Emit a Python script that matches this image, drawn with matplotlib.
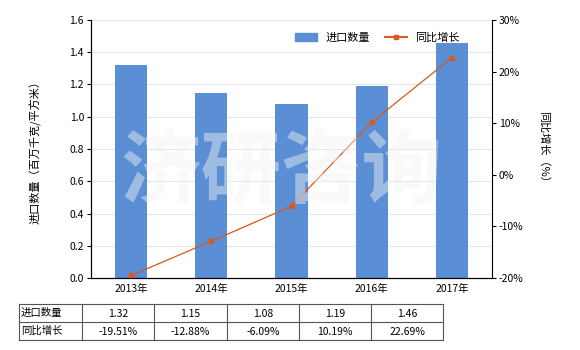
import matplotlib
matplotlib.use("Agg")
import matplotlib.pyplot as plt
from matplotlib.lines import Line2D

plt.rcParams["font.family"] = ["Noto Sans CJK SC", "DejaVu Sans"]
plt.rcParams["font.size"] = 7.5

years = ["2013年", "2014年", "2015年", "2016年", "2017年"]
volume = [1.32, 1.15, 1.08, 1.19, 1.46]
growth = [-19.51, -12.88, -6.09, 10.19, 22.69]
volume_labels = ["1.32", "1.15", "1.08", "1.19", "1.46"]
growth_labels = ["-19.51%", "-12.88%", "-6.09%", "10.19%", "22.69%"]

bar_color = "#5a8fd6"
line_color = "#d9581c"

fig = plt.figure(figsize=(5.8, 3.5), dpi=100)
ax = fig.add_axes([91 / 580, 1 - 278 / 350, (492 - 91) / 580, (278 - 20) / 350])
x = range(len(years))
ax.bar(x, volume, width=0.4, color=bar_color, label="进口数量", zorder=2)
ax.set_xlim(-0.5, len(years) - 0.5)
ax.set_ylim(0, 1.6)
ax.set_yticks([i * 0.2 for i in range(9)])
ax.set_yticklabels([f"{i * 0.2:.1f}" for i in range(9)])
ax.set_xticks(list(x))
ax.set_xticklabels(years)
ax.grid(axis="y", color="#e6e6e6", linewidth=0.8, zorder=0)
ax.spines["top"].set_visible(False)
ax.spines["right"].set_visible(False)
ax.tick_params(axis="x", length=0, pad=4)
ax.tick_params(axis="y", length=3, pad=2)
ax.set_ylabel("进口数量（百万千克/平方米）", fontsize=8, labelpad=20)

ax2 = ax.twinx()
ax2.plot(list(x), growth, color=line_color, linewidth=0.9, marker="s",
         markersize=3, label="同比增长", zorder=3)
ax2.set_ylim(-20, 30)
ax2.set_yticks(range(-20, 31, 10))
ax2.set_yticklabels([f"{v}%" for v in range(-20, 31, 10)])
ax2.spines["top"].set_visible(False)
ax2.tick_params(axis="y", length=3, pad=2)
ax2.set_ylabel("同比增长（%）", fontsize=8, rotation=-90, labelpad=18)

handles = [plt.Rectangle((0, 0), 1, 1, color=bar_color),
           Line2D([], [], color=line_color, marker="s", markersize=3, linewidth=1.5)]
ax.legend(handles, ["进口数量", "同比增长"], loc="upper right", ncol=2, frameon=False,
          bbox_to_anchor=(0.945, 0.99), fontsize=8, handlelength=1.9, columnspacing=1.4)

# watermark, drawn over the plot
fig.text(281 / 580, 1 - 174 / 350, "济研咨询", fontsize=58, color="#f2f2f2", alpha=0.45,
         ha="center", va="center", fontweight="bold", zorder=10)

# data table below the chart
tab = fig.add_axes([0, 0, 1, 1], zorder=-1)
tab.set_xlim(0, 580)
tab.set_ylim(350, 0)
tab.axis("off")
cols = [19, 82, 154, 227, 299, 371, 443]
rows = [304, 322, 340]
for yy in rows:
    tab.plot([cols[0], cols[-1]], [yy, yy], color="#555555", linewidth=0.8)
for xx in cols:
    tab.plot([xx, xx], [rows[0], rows[-1]], color="#555555", linewidth=0.8)
tab.text(cols[0] + 2, (rows[0] + rows[1]) / 2, "进口数量", va="center", ha="left")
tab.text(cols[0] + 2, (rows[1] + rows[2]) / 2, "同比增长", va="center", ha="left")
for i in range(len(years)):
    cx = (cols[i + 1] + cols[i + 2]) / 2
    tab.text(cx, (rows[0] + rows[1]) / 2 + 1, volume_labels[i], va="center", ha="center")
    tab.text(cx, (rows[1] + rows[2]) / 2 + 1, growth_labels[i], va="center", ha="center")

fig.savefig("out.png", dpi=100)
